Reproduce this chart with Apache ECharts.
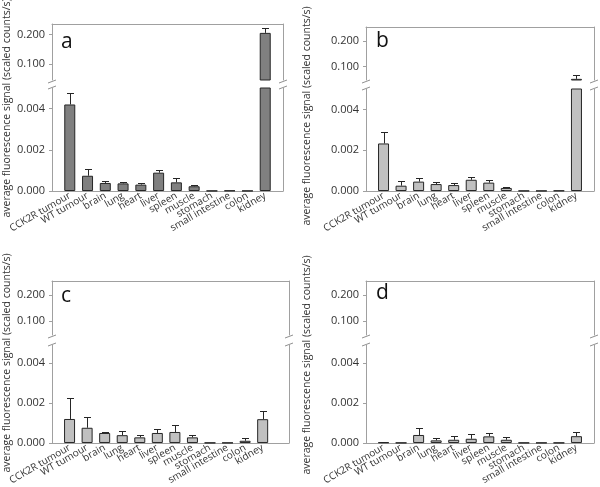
<!DOCTYPE html>
<html><head><meta charset="utf-8">
<script src="https://cdn.jsdelivr.net/npm/echarts@6/dist/echarts.min.js"></script>
<style>html,body{margin:0;padding:0;background:#fff}#c{width:600px;height:487px}</style>
</head><body><div id="c"></div>
<script>
const categories = ['CCK2R tumour','WT tumour','brain','lung','heart','liver','spleen','muscle','stomach','small intestine','colon','kidney'];
const upperTicks = [0.1, 0.2];
const lowerTickInterval = 0.002;
const aValues = [0.0042, 0.00074, 0.00039, 0.00037, 0.00031, 0.00089, 0.00042, 0.00023, 0.00001, 0.00002, 0.00001, 0.205];
const aErrors = [0.00058, 0.00031, 0.00008, 0.00008, 0.00006, 0.00013, 0.00021, 0.00006, 0, 0, 0, 0.017];
const bValues = [0.00233, 0.00026, 0.00046, 0.00034, 0.00029, 0.00055, 0.00041, 0.00015, 0.00001, 0.00001, 0.00002, 0.051];
const bErrors = [0.00057, 0.00024, 0.00016, 0.00012, 0.00008, 0.00012, 0.00013, 0.00005, 0, 0, 0, 0.016];
const cValues = [0.0012, 0.00076, 0.0005, 0.00039, 0.00028, 0.0005, 0.00055, 0.00028, 0.00001, 0.00001, 0.00011, 0.00119];
const cErrors = [0.00106, 0.00054, 0.00007, 0.00021, 0.00011, 0.00022, 0.00033, 0.00012, 0, 0, 0.00012, 0.00041];
const dValues = [0.00003, 0.00001, 0.0004, 0.00013, 0.00016, 0.00021, 0.00033, 0.00016, 0.00001, 0.00001, 0.00001, 0.00034];
const dErrors = [0.00003, 0, 0.00036, 0.00013, 0.00017, 0.00026, 0.00016, 0.00015, 0, 0, 0, 0.0002];
const panelLetters = ['a','b','c','d'];
const yTitle = 'average fluorescence signal (scaled counts/s)';

const panelData = [[aValues,aErrors],[bValues,bErrors],[cValues,cErrors],[dValues,dErrors]];
const layouts = [
 {L:52,R:283,upTop:24,upBot:80,loTop:88,loBot:191,upMin:0.046,upMax:0.235,loMax:0.005,xMax:12,color:'#808080',letter:[61,42],title:[7,108]},
 {L:366,R:594,upTop:27,upBot:80,loTop:89,loBot:191,upMin:0.0465,upMax:0.2547,loMax:0.005,xMax:12,color:'#c0c0c0',letter:[376,41],title:[307,116]},
 {L:52,R:289,upTop:281,upBot:335,loTop:345,loBot:446,upMin:0.048,upMax:0.253,loMax:0.0049,xMax:12.5,color:'#c0c0c0',letter:[61,296],title:[7,363]},
 {L:366,R:594,upTop:281,upBot:335,loTop:345,loBot:446,upMin:0.048,upMax:0.253,loMax:0.0049,xMax:12,color:'#c0c0c0',letter:[376,293],title:[307,365]}
];
const FONT = 'Open Sans';
const AX = '#a0a0a0', TXT = '#333333', EDGE = '#262626';
const catIdx = categories.map((c,i)=>i);

function renderErr(params, api){
  const x = api.value(0), v = api.value(1), e = api.value(2);
  const p0 = api.coord([x, v]), p1 = api.coord([x, v + e]);
  const cx = Math.round(p0[0]) + 0.5, ty = Math.round(p1[1]) + 0.5;
  return {type:'group', children:[
    {type:'line', shape:{x1:cx, y1:p0[1], x2:cx, y2:ty}, style:{stroke:EDGE, lineWidth:1}},
    {type:'line', shape:{x1:cx-3.5, y1:ty, x2:cx+3.5, y2:ty}, style:{stroke:EDGE, lineWidth:1}}
  ]};
}

const grid=[], xAxis=[], yAxis=[], series=[], graphic=[];
const line = {show:true, onZero:false, lineStyle:{color:AX}};
layouts.forEach((Ly, p) => {
  const [vals, errs] = panelData[p];
  const w = Ly.R - Ly.L;
  // upper section
  const gU = grid.length;
  grid.push({left:Ly.L, top:Ly.upTop, width:w, height:Ly.upBot-Ly.upTop});
  const xU = xAxis.length;
  xAxis.push({type:'value', gridIndex:gU, min:-1, max:Ly.xMax, position:'top',
    axisLine:line, axisTick:{show:false}, axisLabel:{show:false}, splitLine:{show:false}});
  const yU = yAxis.length;
  yAxis.push({type:'value', gridIndex:gU, min:Ly.upMin, max:Ly.upMax, position:'left',
    axisLine:line, axisTick:{show:true, length:3, customValues:upperTicks, lineStyle:{color:AX}},
    axisLabel:{customValues:upperTicks, formatter:v=>v.toFixed(3), color:TXT, fontFamily:FONT, fontSize:11, margin:7},
    splitLine:{show:false}});
  yAxis.push({type:'value', gridIndex:gU, min:Ly.upMin, max:Ly.upMax, position:'right',
    axisLine:line, axisTick:{show:false}, axisLabel:{show:false}, splitLine:{show:false}});
  // lower section
  const gL = grid.length;
  grid.push({left:Ly.L, top:Ly.loTop, width:w, height:Ly.loBot-Ly.loTop});
  const xL = xAxis.length;
  xAxis.push({type:'value', gridIndex:gL, min:-1, max:Ly.xMax, position:'bottom',
    axisLine:line, axisTick:{show:false},
    axisLabel:{customValues:[-1].concat(catIdx, [Ly.xMax]),
      formatter:v=>(categories[v] !== undefined ? categories[v] : ' '),
      rotate:30, color:TXT, fontFamily:FONT, fontSize:10, margin:4, hideOverlap:false},
    splitLine:{show:false}});
  const yL = yAxis.length;
  yAxis.push({type:'value', gridIndex:gL, min:0, max:Ly.loMax, interval:lowerTickInterval, position:'left',
    axisLine:line, axisTick:{show:true, length:3, lineStyle:{color:AX}},
    axisLabel:{formatter:v=>v.toFixed(3), color:TXT, fontFamily:FONT, fontSize:11, margin:7, showMaxLabel:false},
    splitLine:{show:false}});
  yAxis.push({type:'value', gridIndex:gL, min:0, max:Ly.loMax, position:'right',
    axisLine:line, axisTick:{show:false}, axisLabel:{show:false}, splitLine:{show:false}});

  const barStyle = {color:Ly.color, borderColor:EDGE, borderWidth:1};
  series.push({type:'bar', xAxisIndex:xU, yAxisIndex:yU, barWidth:11, clip:true, itemStyle:barStyle,
    data: vals.map((v,i)=>[i,v]).filter(d=>d[1] > Ly.upMin)});
  series.push({type:'bar', xAxisIndex:xL, yAxisIndex:yL, barWidth:11, clip:true, itemStyle:barStyle,
    data: vals.map((v,i)=>[i,v])});
  series.push({type:'custom', xAxisIndex:xU, yAxisIndex:yU, renderItem:renderErr, z:5,
    data: vals.map((v,i)=>[i,v,errs[i]]).filter(d=>d[1] > Ly.upMin && d[2] > 0)});
  series.push({type:'custom', xAxisIndex:xL, yAxisIndex:yL, renderItem:renderErr, z:5,
    data: vals.map((v,i)=>[i,v,errs[i]]).filter(d=>d[1] <= Ly.loMax && d[2] > 0)});

  // break marks
  [Ly.L, Ly.R].forEach(ax => {
    [Ly.upBot + 1.5, Ly.loTop - 0.5].forEach(by => {
      graphic.push({type:'line', shape:{x1:ax-4, y1:by+1.5, x2:ax+4, y2:by-1.5}, style:{stroke:'#909090', lineWidth:1}});
    });
  });
  graphic.push({type:'text', x:Ly.letter[0], y:Ly.letter[1],
    style:{text:panelLetters[p], fontFamily:FONT, fontSize:21, fill:'#111', align:'left', verticalAlign:'middle'}});
  graphic.push({type:'text', x:Ly.title[0], y:Ly.title[1], rotation:Math.PI/2,
    style:{text:yTitle, fontFamily:FONT, fontSize:10.5, fill:TXT, align:'center', verticalAlign:'middle'}});
});

const chart = echarts.init(document.getElementById('c'), null, {renderer:'canvas'});
chart.setOption({animation:false, backgroundColor:'#fff', grid, xAxis, yAxis, series, graphic});
</script></body></html>
